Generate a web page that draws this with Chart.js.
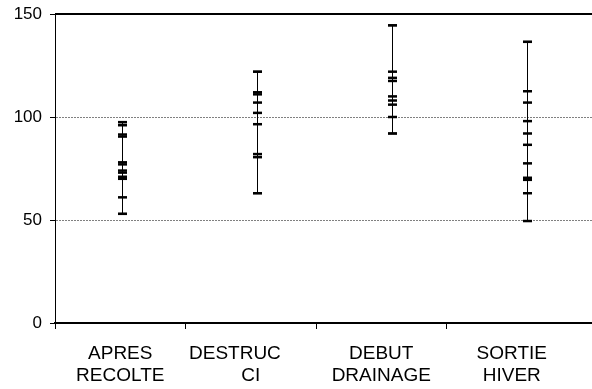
<!DOCTYPE html>
<html>
<head>
<meta charset="utf-8">
<script src="https://cdn.jsdelivr.net/npm/chart.js@4"></script>
<style>
  html, body { margin: 0; padding: 0; background: #fff; }
  #wrap { width: 592px; height: 389px; }
</style>
</head>
<body>
<div id="wrap"><canvas id="chart" width="592" height="389"></canvas></div>
<script>
// sampling dates
const categories = [
  ['APRES', 'RECOLTE'],
  ['DESTRUC      ', 'CI'],
  ['DEBUT', 'DRAINAGE'],
  ['SORTIE', 'HIVER']
];

// individual measurements per date
const apresRecolte = [97.5, 96, 91.5, 90.5, 78, 77, 74, 73, 71, 70, 61, 53];
const destrucCi = [122, 112, 111, 107, 102, 96.5, 82, 80.5, 63];
const debutDrainage = [144.5, 122, 119, 117.5, 110, 108, 106, 100, 92];
const sortieHiver = [136.5, 112.5, 107, 98, 92, 86.5, 77.5, 70.5, 69.5, 63, 49.5];

const yTicks = [0, 50, 100, 150];

const series = [apresRecolte, destrucCi, debutDrainage, sortieHiver];

// min-max range line for each date
const rangeSets = series.map((vals, i) => ({
  type: 'line',
  xAxisID: 'xp',
  data: [{ x: i + 1, y: Math.min(...vals) }, { x: i + 1, y: Math.max(...vals) }],
  borderColor: '#000',
  borderWidth: 1,
  pointStyle: 'line',
  pointRadius: 4.5,
  pointBorderWidth: 2,
  pointBorderColor: '#000',
  fill: false,
  clip: false
}));

const pointSet = {
  type: 'scatter',
  xAxisID: 'xp',
  data: series.flatMap((vals, i) => vals.map(v => ({ x: i + 1, y: v }))),
  pointStyle: 'line',
  pointRadius: 4.5,
  pointBorderWidth: 2.5,
  pointBorderColor: '#000',
  borderColor: '#000',
  clip: false
};

// top edge of the plot
const topEdge = {
  id: 'topEdge',
  afterDraw(chart) {
    const { ctx, chartArea } = chart;
    ctx.save();
    ctx.strokeStyle = '#000';
    ctx.lineWidth = 2;
    ctx.beginPath();
    ctx.moveTo(chartArea.left, chartArea.top);
    ctx.lineTo(chartArea.right, chartArea.top);
    ctx.stroke();
    ctx.restore();
  }
};

new Chart(document.getElementById('chart'), {
  data: { datasets: [...rangeSets, pointSet] },
  options: {
    responsive: false,
    animation: false,
    layout: { autoPadding: false, padding: { top: 14, right: 0, left: 0, bottom: 0 } },
    plugins: { legend: { display: false }, tooltip: { enabled: false } },
    scales: {
      x: {
        type: 'linear',
        position: 'bottom',
        min: 0,
        max: 537 / 130.5,
        afterBuildTicks: s => {
          s.ticks = [];
          for (let i = 0; i < categories.length; i++) {
            s.ticks.push({ value: i });
            s.ticks.push({ value: i + 0.5 });
          }
        },
        afterFit: s => {
          s.height = 66;
          s.paddingLeft = 0;
          s.paddingRight = 0;
        },
        grid: {
          drawOnChartArea: false,
          tickLength: 6,
          tickColor: c => Number.isInteger(c.tick.value) ? '#000' : 'rgba(0,0,0,0)'
        },
        border: { color: '#000', width: 2 },
        ticks: {
          autoSkip: false,
          maxRotation: 0,
          padding: 13,
          color: '#000',
          font: { family: 'Liberation Sans, Arial, sans-serif', size: 19 },
          callback: v => Number.isInteger(v) ? '' : categories[Math.floor(v)]
        }
      },
      xp: {
        type: 'linear',
        display: false,
        min: 0.5,
        max: 0.5 + 537 / 135
      },
      y: {
        min: 0,
        max: 150,
        afterBuildTicks: s => { s.ticks = yTicks.map(v => ({ value: v })); },
        afterFit: s => {
          s.width = 55;
          s.paddingTop = 0;
          s.paddingBottom = 0;
        },
        grid: {
          color: c => (c.tick.value === 0 || c.tick.value === 150) ? 'rgba(0,0,0,0)' : '#808080',
          tickLength: 5,
          tickColor: '#000'
        },
        border: { color: '#000', width: 1, dash: [2, 1] },
        ticks: {
          padding: 8,
          color: '#000',
          font: { family: 'Liberation Sans, Arial, sans-serif', size: 17 }
        }
      }
    }
  },
  plugins: [topEdge]
});
</script>
</body>
</html>
